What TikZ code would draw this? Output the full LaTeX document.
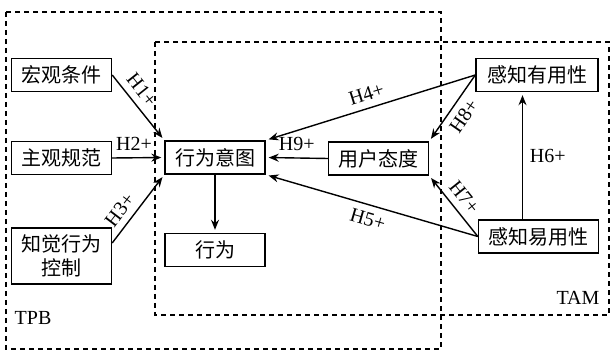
\documentclass[tikz,border=0pt]{standalone}
\usepackage{fontspec}
\setmainfont{Liberation Serif}
\newfontfamily\cjk{Noto Sans CJK SC}
\usepackage{tikz}
\usetikzlibrary{arrows.meta}
\tikzset{
  factor/.style={draw, line width=0.7pt, font=\cjk, minimum width=50pt, minimum height=16.5pt, inner sep=2pt},
  frame/.style={line width=0.6pt, dash pattern=on 2.5pt off 2pt},
  hyp/.style={-{Stealth[length=5pt,width=4pt]}, line width=0.7pt, shorten >=1.5pt}
}

\begin{document}
\begin{tikzpicture}[x=0.5pt,y=-0.5pt]
      \useasboundingbox (0,0) rectangle (615,356);
      \draw[frame] (6,12) rectangle (441,349);
      \draw[frame] (155,42) rectangle (609,315);
      \node (tpb) at (33,318) {TPB};
      \node (tam) at (578,298) {TAM};

      \node[factor] (hongguan) at (61.5,75) {宏观条件};
      \node[factor] (zhuguan) at (61.5,158) {主观规范};
      \node[factor, minimum height=28pt, align=center] (zhijue) at (61.5,256) {知觉行为\\控制};

      \node[factor] (yitu) at (215,157.5) {行为意图};
      \node[factor] (xingwei) at (215,250) {行为};
      \node[factor] (taidu) at (378.5,158.5) {用户态度};

      \node[factor, minimum width=61pt] (youyong) at (537,75) {感知有用性};
      \node[factor, minimum width=60pt] (yiyong) at (538.5,236.5) {感知易用性};

      \draw[hyp] (hongguan.east) -- (yitu.north west) node[pos=0.36, above, sloped] {H1+};
      \draw[hyp] (zhuguan.east) -- (yitu.west) node[pos=0.42, above] {H2+};
      \draw[hyp] ([yshift=6.5pt]zhijue.east) -- (yitu.south west) node[pos=0.36, above, sloped] {H3+};
      \draw[hyp] (yitu.south) -- (xingwei.north);

      \draw[hyp] (youyong.west) -- (yitu.north east) node[midway, above, sloped] {H4+};
      \draw[hyp] (yiyong.west) -- (yitu.south east) node[midway, below, sloped] {H5+};
      \draw[hyp] (taidu.west) -- (yitu.east) node[midway, above] {H9+};

      \draw[hyp] (youyong.west) -- (taidu.north east) node[midway, below, sloped] {H8+};
      \draw[hyp] (yiyong.west) -- (taidu.south east) node[midway, above, sloped] {H7+};
      \draw[hyp] ([xshift=-8pt]yiyong.north) -- ([xshift=-8pt]yiyong.north |- youyong.south) node[midway, right] {H6+};
\end{tikzpicture}
\end{document}
